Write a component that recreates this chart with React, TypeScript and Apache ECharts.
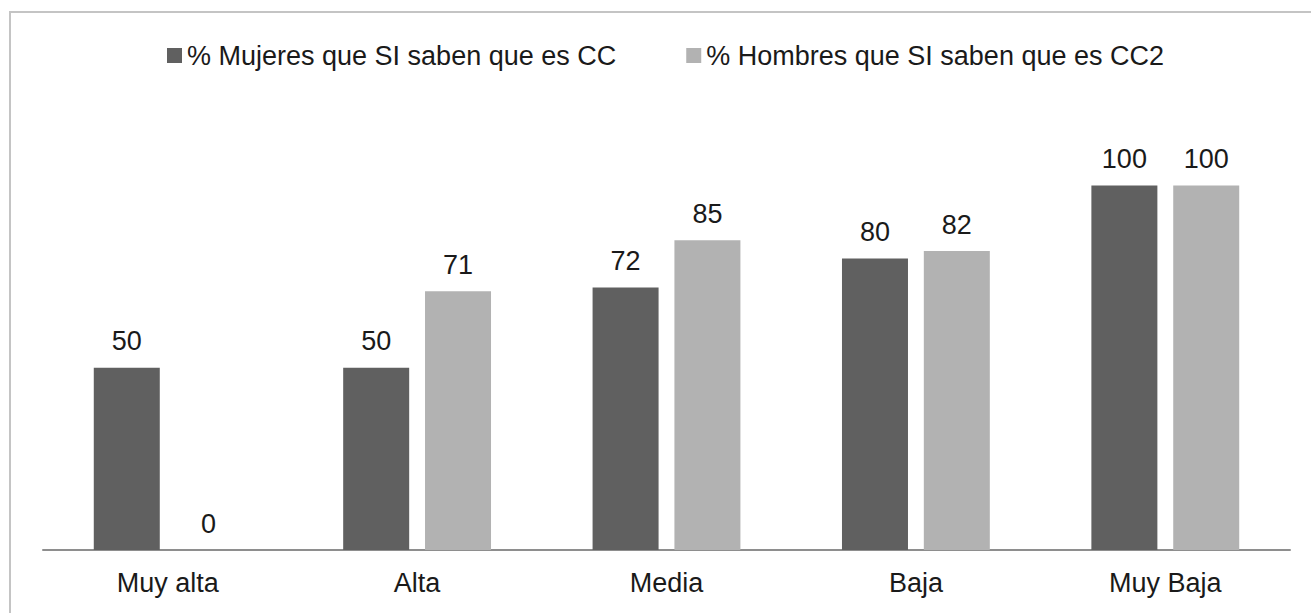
import React, { useEffect, useRef } from "react";
import * as echarts from "echarts";

const categories = ["Muy alta", "Alta", "Media", "Baja", "Muy Baja"];
const mujeres = [50, 50, 72, 80, 100];
const hombres = [0, 71, 85, 82, 100];
const seriesNames = ["% Mujeres que SI saben que es CC", "% Hombres que SI saben que es CC2"];

const FONT = "'Liberation Sans', Arial, Helvetica, sans-serif";

export default function App() {
  const ref = useRef<HTMLDivElement>(null);
  useEffect(() => {
    document.body.style.margin = "0";
    const chart = echarts.init(ref.current!, null, { renderer: "svg" });
    const label = {
      show: true,
      position: "top",
      distance: 13,
      fontSize: 27,
      fontFamily: FONT,
      color: "#1a1a1a",
    };
    chart.setOption({
      animation: false,
      backgroundColor: "#ffffff",
      textStyle: { fontFamily: FONT },
      graphic: [
        {
          type: "rect",
          shape: { x: 10, y: 12, width: 1400, height: 700 },
          style: { fill: "none", stroke: "#c4c4c4", lineWidth: 2 },
          silent: true,
        },
      ],
      legend: {
        left: 162,
        top: 37,
        itemWidth: 15,
        itemHeight: 15,
        itemGap: 70,
        icon: "rect",
        textStyle: { fontSize: 27, fontFamily: FONT, color: "#1a1a1a" },
        data: seriesNames,
      },
      grid: { left: 43, right: 21, top: 185.5, bottom: 63, containLabel: false },
      xAxis: {
        type: "category",
        data: categories,
        axisLine: { show: true, lineStyle: { color: "#8e8e8e", width: 2 } },
        axisTick: { show: false },
        axisLabel: { fontSize: 27, fontFamily: FONT, color: "#1a1a1a", margin: 19 },
      },
      yAxis: {
        type: "value",
        min: 0,
        max: 100,
        show: false,
        splitLine: { show: false },
      },
      series: [
        {
          name: seriesNames[0],
          type: "bar",
          data: mujeres,
          barWidth: 66,
          barGap: "24%",
          itemStyle: { color: "#606060" },
          label,
        },
        {
          name: seriesNames[1],
          type: "bar",
          data: hombres,
          barWidth: 66,
          barGap: "24%",
          itemStyle: { color: "#b2b2b2" },
          label,
        },
      ],
    });
    return () => chart.dispose();
  }, []);
  return <div ref={ref} style={{ width: 1311, height: 613 }} />;
}
